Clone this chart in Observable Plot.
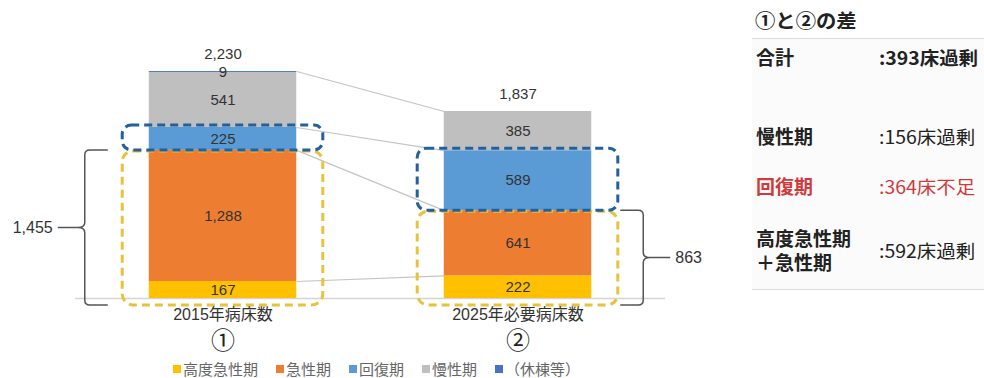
<!DOCTYPE html>
<html><head><meta charset="utf-8">
<script src="https://cdn.jsdelivr.net/npm/d3@7"></script>
<script src="https://cdn.jsdelivr.net/npm/@observablehq/plot@0.6"></script>
<style>
body{margin:0;background:#fff;}
#wrap{position:relative;width:984px;height:378px;overflow:hidden;font-family:"Liberation Sans",Arial,"Noto Sans CJK JP",sans-serif;}
#chart{position:absolute;left:0;top:0;}
#legend{position:absolute;left:173px;top:360px;height:18px;}
#legend .lg-swatches{margin:0 !important;min-height:0 !important;font-size:15px !important;font-family:"Noto Sans CJK JP",sans-serif !important;color:#666;line-height:18px;}
#legend .lg-swatch{margin-right:18px !important;}
#legend .lg-swatch > svg{margin-right:2px !important;}
#panel{position:absolute;left:740px;top:0;width:244px;height:300px;font-family:"Noto Sans CJK JP",sans-serif;color:#222;}
#panel .t{position:absolute;white-space:pre;font-size:19px;line-height:18px;transform-origin:0 50%;}
#panel .bg{position:absolute;left:12px;right:0;top:39px;height:250px;background:#fbfbfb;}
#panel .ln{position:absolute;left:12px;right:0;height:1px;background:#dcdcdc;}
</style></head><body>
<div id="wrap"><div id="chart"></div><div id="legend"></div><div id="panel"></div></div>
<script>
// ---- data ----
const categories = ["2015年病床数", "2025年必要病床数"];
const circled = ["①", "②"];
const phases = ["高度急性期", "急性期", "回復期", "慢性期", "（休棟等）"];
const colors = ["#FFC000", "#ED7D31", "#5B9BD5", "#BFBFBF", "#4472C4"];
const beds2015 = [167, 1288, 225, 541, 9];
const beds2025 = [222, 641, 589, 385, 0];
const totals = [2230, 1837];
const braceValues = [1455, 863];
const braceLabels = ["1,455", "863"];
const diffTitle = "①と②の差";
const diffLabels = ["合計", "慢性期", "回復期", "高度急性期\n＋急性期"];
const diffValues = [":393床過剰", ":156床過剰", ":364床不足", ":592床過剰"];

// ---- derived ----
const series = [beds2015, beds2025];
const BAR_LO = 0.25, BAR_HI = 0.75, BOX_PAD = 0.09;
const cum = (i, k) => d3.sum(series[i].slice(0, k));
const rows = [];
series.forEach((vals, i) => {
  let c = 0;
  vals.forEach((v, k) => { rows.push({i, phase: phases[k], value: v, y1: c, y2: c + v}); c += v; });
});
const connectorLevels = [5, 3, 2, 1];
const connectors = connectorLevels.map(k => ({a: cum(0, k), b: cum(1, k)}));
const boxes = [0, 1].flatMap(i => [
  {i, kind: "acute", y1: cum(i, 0), y2: cum(i, 2)},
  {i, kind: "recovery", y1: cum(i, 2), y2: cum(i, 3)}
]);
const cats = categories.map((c, i) => ({i, c, n: circled[i], total: totals[i]}));
const numFont = "Liberation Sans, Arial, sans-serif";

function braces(index, scales) {
  const {x, y} = scales;
  const g = d3.create("svg:g");
  braceValues.forEach((v, i) => {
    const left = i === 0;
    const s = left ? -1 : 1, a = -s, r = 5;
    const edge = left ? x(i + BAR_LO) : x(i + BAR_HI);
    const vx = edge + s * (left ? 64 : 52);
    const yt = y(v), yb = y(0) + 7, ym = (yt + yb) / 2;
    const p = d3.path();
    p.moveTo(vx + a * 23, yt); p.lineTo(vx + a * r, yt);
    p.quadraticCurveTo(vx, yt, vx, yt + r); p.lineTo(vx, ym - r);
    p.quadraticCurveTo(vx, ym, vx + s * 7, ym);
    p.quadraticCurveTo(vx, ym, vx, ym + r); p.lineTo(vx, yb - r);
    p.quadraticCurveTo(vx, yb, vx + a * r, yb); p.lineTo(vx + a * 23, yb);
    p.moveTo(vx + s * 7, ym); p.lineTo(vx + s * 27, ym);
    g.append("path").attr("d", p.toString()).attr("fill", "none").attr("stroke", "#555").attr("stroke-width", 1.5);
    g.append("text").attr("x", vx + s * 32).attr("y", ym).attr("dy", "0.35em")
      .attr("text-anchor", left ? "end" : "start").attr("font-family", numFont)
      .attr("font-size", 16).attr("fill", "#333").text(braceLabels[i]);
  });
  return g.node();
}

const chart = Plot.plot({
  width: 730, height: 358,
  marginLeft: 75, marginRight: 65, marginTop: 71, marginBottom: 60,
  x: {domain: [0, categories.length], axis: null},
  y: {domain: [0, d3.max(totals)], axis: null},
  color: {type: "ordinal", domain: phases, range: colors},
  marks: [
    Plot.ruleY([0], {x1: 0, x2: categories.length, stroke: "#d4d4d4", strokeWidth: 1.5}),
    Plot.link(connectors, {x1: BAR_HI, x2: 1 + BAR_LO, y1: "a", y2: "b", stroke: "#c4c4c4", strokeWidth: 1.2}),
    Plot.rect(rows.filter(d => d.value > 0), {x1: d => d.i + BAR_LO, x2: d => d.i + BAR_HI, y1: "y1", y2: "y2", fill: "phase"}),
    Plot.text(rows.filter(d => d.value > 0), {x: d => d.i + 0.5, y: d => (d.y1 + d.y2) / 2, text: d => d3.format(",")(d.value), fontSize: 15, fontFamily: numFont, fill: "#333"}),
    Plot.text(cats, {x: d => d.i + 0.5, y: "total", text: d => d3.format(",")(d.total), dy: -17, fontSize: 15, fontFamily: numFont, fill: "#333"}),
    Plot.rect(boxes.filter(d => d.kind === "acute"), {x1: d => d.i + BAR_LO - BOX_PAD, x2: d => d.i + BAR_HI + BOX_PAD, y1: "y1", y2: "y2", insetBottom: -7, insetTop: 1, rx: 11, fill: "none", stroke: "#E8C23A", strokeWidth: 3, strokeDasharray: "8,5"}),
    Plot.rect(boxes.filter(d => d.kind === "recovery"), {x1: d => d.i + BAR_LO - BOX_PAD, x2: d => d.i + BAR_HI + BOX_PAD, y1: "y1", y2: "y2", insetTop: -2, insetBottom: 0, rx: 9, fill: "none", stroke: "#23609E", strokeWidth: 3, strokeDasharray: "8,5"}),
    braces,
    Plot.text(cats, {x: d => d.i + 0.5, frameAnchor: "bottom", dy: 21, text: "c", fontSize: 16, fontFamily: "Liberation Sans, Noto Sans CJK JP, sans-serif", fill: "#333"}),
    Plot.text(cats, {x: d => d.i + 0.5, frameAnchor: "bottom", dy: 50, text: "n", fontSize: 24, fontFamily: "Noto Sans CJK JP, sans-serif", fill: "#222"})
  ]
});
document.getElementById("chart").append(chart);

const legend = Plot.legend({color: {type: "ordinal", domain: phases, range: colors}, swatchSize: 8, className: "lg"});
document.getElementById("legend").append(legend);

// ---- right panel ----
const panel = document.getElementById("panel");
function add(cls, css, text) {
  const el = document.createElement("div");
  el.className = cls; el.style.cssText = css; if (text != null) el.textContent = text;
  panel.append(el); return el;
}
add("bg", "");
add("t", "left:15px;top:11px;font-weight:bold;font-size:19px;transform:scaleX(1.07);", diffTitle);
add("ln", "top:38px;");
add("ln", "top:289px;");
const rowCenters = [57, 136, 186, 250];
diffLabels.forEach((lab, k) => {
  const two = lab.includes("\n");
  const color = k === 2 ? "color:#D03A3A;" : "";
  const top = two ? rowCenters[k] - 24 : rowCenters[k] - 9;
  add("t", `left:16px;top:${top}px;${two ? "line-height:24px;" : ""}font-weight:bold;${color}`, lab);
  add("t", `left:139px;top:${rowCenters[k] - 9}px;font-size:18px;transform:scaleX(1.08);font-weight:${k === 0 ? "bold" : "normal"};${color}`, diffValues[k]);
});
</script>
</body></html>
